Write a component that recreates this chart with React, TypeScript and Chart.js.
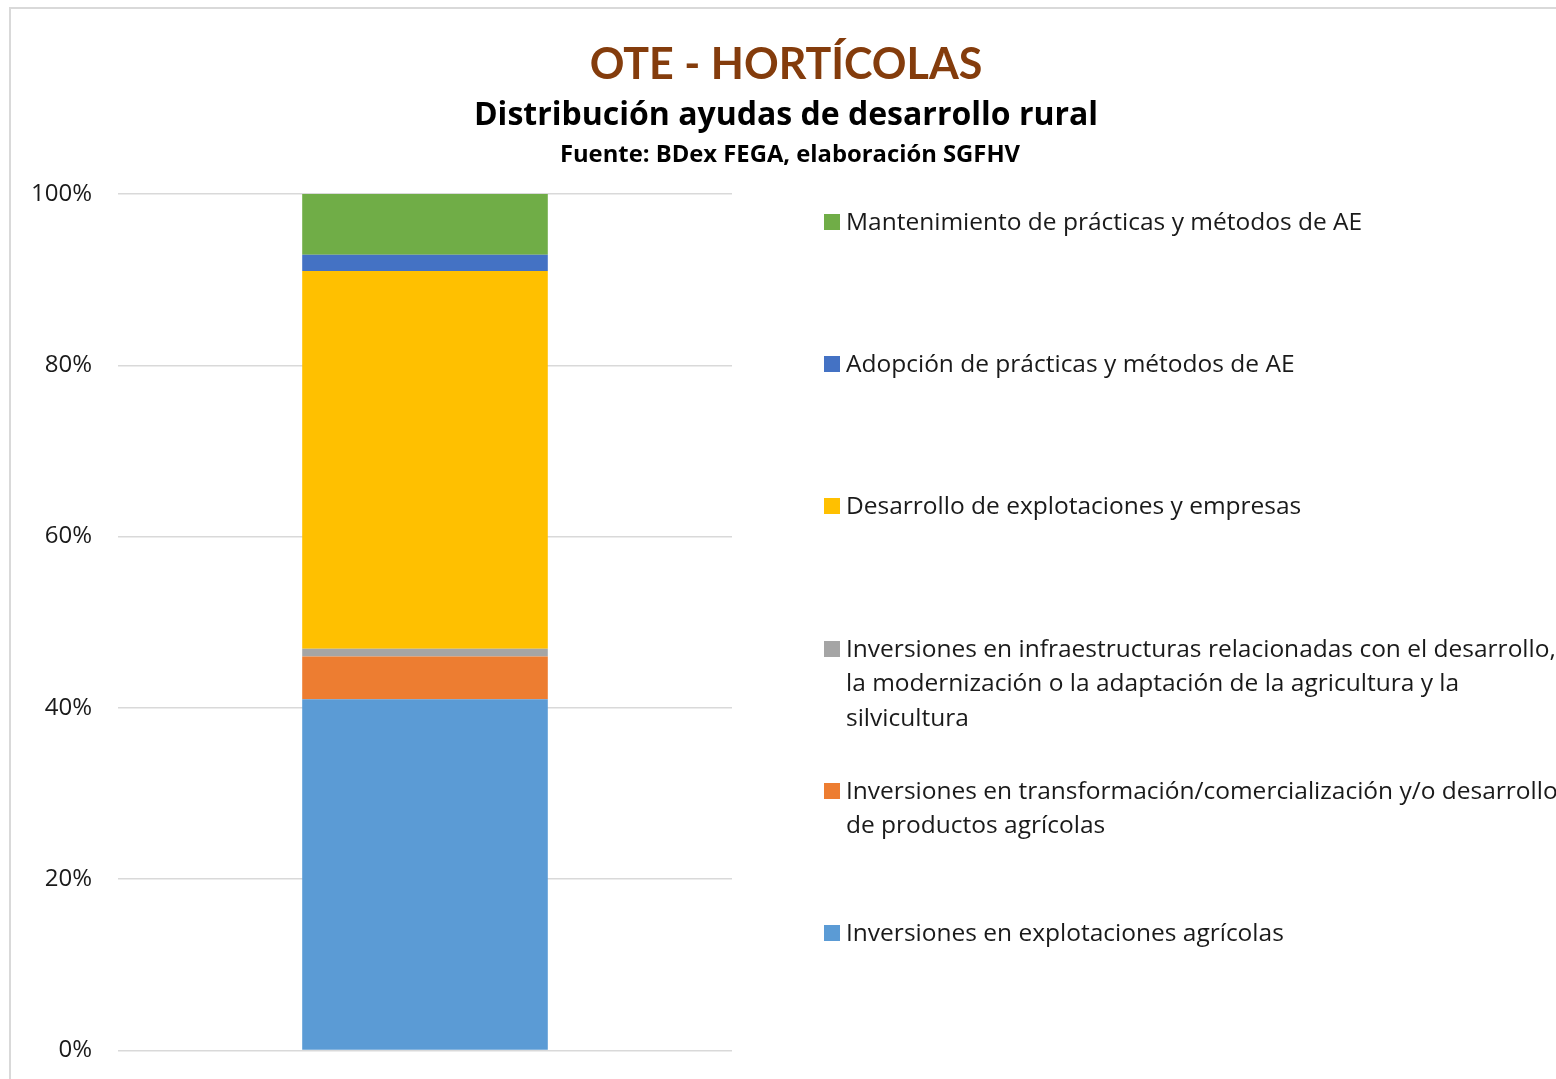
import React, { useEffect, useRef } from "react";
import { Chart, registerables } from "chart.js";

Chart.register(...registerables);

const categories = ["OTE - HORTÍCOLAS"];
const seriesLabels = [
  "Inversiones en explotaciones agrícolas",
  "Inversiones en transformación/comercialización y/o desarrollo de productos agrícolas",
  "Inversiones en infraestructuras relacionadas con el desarrollo, la modernización o la adaptación de la agricultura y la silvicultura",
  "Desarrollo de explotaciones y empresas",
  "Adopción de prácticas y métodos de AE",
  "Mantenimiento de prácticas y métodos de AE",
];
const seriesValues = [41.0, 5.0, 0.9, 44.1, 1.9, 7.1];
const seriesColors = ["#5B9BD5", "#ED7D31", "#A5A5A5", "#FFC000", "#4472C4", "#70AD47"];
const tickValues = [0, 20, 40, 60, 80, 100];

// legend lines (top to bottom), wrapped as in the reference
const legendLines: string[][] = [
  ["Mantenimiento de prácticas y métodos de AE"],
  ["Adopción de prácticas y métodos de AE"],
  ["Desarrollo de explotaciones y empresas"],
  [
    "Inversiones en infraestructuras relacionadas con el desarrollo,",
    "la modernización o la adaptación de la agricultura y la",
    "silvicultura",
  ],
  ["Inversiones en transformación/comercialización y/o desarrollo", "de productos agrícolas"],
  ["Inversiones en explotaciones agrícolas"],
];
const legendColors = ["#70AD47", "#4472C4", "#FFC000", "#A5A5A5", "#ED7D31", "#5B9BD5"];

const W = 1556;
const H = 1079;
const FONT = "'Open Sans', sans-serif";
const TITLE_FONT = "Lato, 'Open Sans', sans-serif";

export default function App() {
  const canvasRef = useRef<HTMLCanvasElement | null>(null);

  useEffect(() => {
    const ctx = canvasRef.current;
    if (!ctx) return;
    const chart = new Chart(ctx, {
      type: "bar",
      data: {
        labels: categories,
        datasets: seriesValues.map((v, i) => ({
          label: seriesLabels[i],
          data: [v],
          backgroundColor: seriesColors[i],
          borderWidth: 0,
          barPercentage: 1,
          categoryPercentage: 0.4,
        })),
      },
      options: {
        responsive: false,
        animation: false,
        devicePixelRatio: 1,
        layout: { padding: { left: 0, right: W - 732, top: 194, bottom: 28.5 } },
        plugins: {
          legend: { display: false },
          title: { display: false },
          tooltip: { enabled: false },
        },
        scales: {
          x: {
            stacked: true,
            display: false,
          },
          y: {
            stacked: true,
            min: 0,
            max: 100,
            afterFit: (scale: any) => {
              scale.width = 118;
              scale.paddingBottom = 0;
              scale.paddingTop = 0;
            },
            afterBuildTicks: (scale: any) => {
              scale.ticks = tickValues.map((v) => ({ value: v }));
            },
            border: { display: false },
            grid: {
              color: "#D9D9D9",
              lineWidth: 1.5,
              drawTicks: false,
            },
            ticks: {
              padding: 26,
              color: "#1a1a1a",
              font: { family: FONT, size: 24 },
              callback: (v: any) => `${v}%`,
            },
          },
        },
      },
    });
    return () => chart.destroy();
  }, []);

  return (
    <div
      style={{
        position: "absolute",
        left: 0,
        top: 0,
        width: W,
        height: H,
        overflow: "hidden",
        background: "#fff",
        fontFamily: FONT,
      }}
    >
      <div
        style={{
          position: "absolute",
          left: 9,
          top: 7,
          width: W + 20,
          height: H + 20,
          border: "2px solid #D9D9D9",
          boxSizing: "border-box",
        }}
      />
      <canvas ref={canvasRef} width={W} height={H} style={{ position: "absolute", left: 0, top: 0 }} />
      <div
        style={{
          position: "absolute",
          left: 0,
          width: 1572,
          top: 35,
          textAlign: "center",
          color: "#843C0C",
          fontWeight: 700,
          fontSize: 43,
          lineHeight: "56px",
          fontFamily: TITLE_FONT,
        }}
      >
        OTE - HORTÍCOLAS
      </div>
      <div
        style={{
          position: "absolute",
          left: 0,
          width: 1572,
          top: 92,
          textAlign: "center",
          color: "#000",
          fontWeight: 700,
          fontSize: 32,
          lineHeight: "42px",
        }}
      >
        Distribución ayudas de desarrollo rural
      </div>
      <div
        style={{
          position: "absolute",
          left: 0,
          width: 1580,
          top: 138,
          textAlign: "center",
          color: "#000",
          fontWeight: 700,
          fontSize: 23.8,
          lineHeight: "30px",
        }}
      >
        Fuente: BDex FEGA, elaboración SGFHV
      </div>
      {legendLines.map((lines, i) => {
        const cy = 222 + i * 142.2;
        return (
          <div key={i} style={{ position: "absolute", left: 824, top: cy - 17, whiteSpace: "nowrap" }}>
            <div
              style={{
                position: "absolute",
                left: 0,
                top: 9,
                width: 16,
                height: 16,
                background: legendColors[i],
              }}
            />
            <div
              style={{
                position: "absolute",
                left: 22,
                top: -1,
                fontSize: 24.5,
                lineHeight: "34.5px",
                color: "#1a1a1a",
              }}
            >
              {lines.map((l, j) => (
                <div key={j}>{l}</div>
              ))}
            </div>
          </div>
        );
      })}
    </div>
  );
}
